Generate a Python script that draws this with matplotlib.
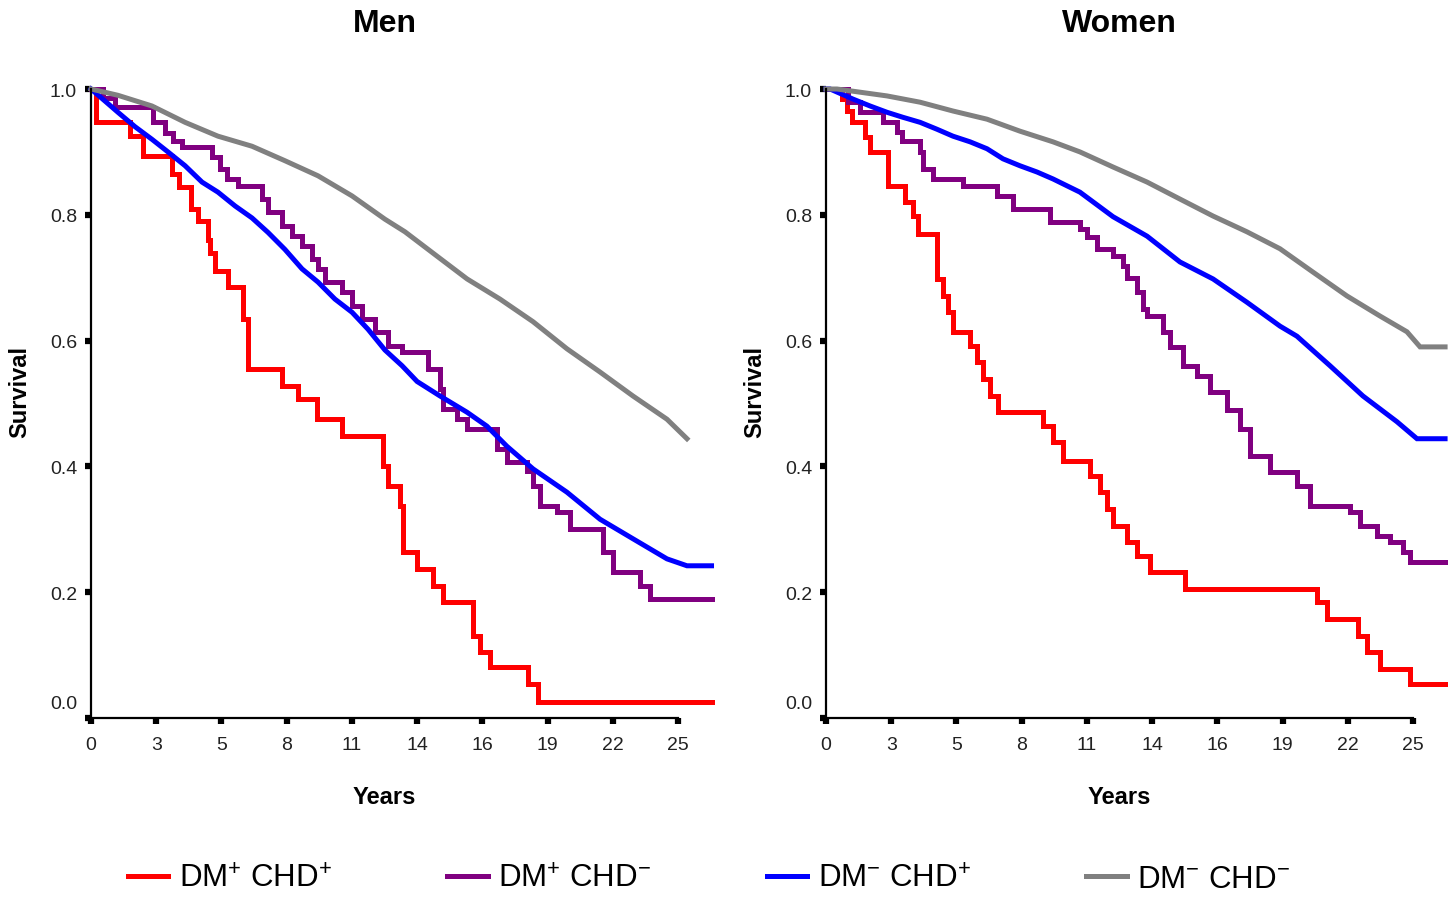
import matplotlib
matplotlib.use("Agg")
import matplotlib.pyplot as plt
import matplotlib.transforms as mtransforms

plt.rcParams['font.family'] = ['Liberation Sans', 'DejaVu Sans']
plt.rcParams['mathtext.fontset'] = 'custom'
plt.rcParams['mathtext.rm'] = 'Liberation Sans'
plt.rcParams['mathtext.it'] = 'Liberation Sans:italic'
plt.rcParams['mathtext.bf'] = 'Liberation Sans:bold'

# ---- data (years, survival) ----
# Men
men_red_t = [0, 0.2, 1.65, 2.2, 3.4, 3.7, 4.2, 4.5, 4.9, 5.0, 5.2, 5.75, 6.38, 6.6, 8.0, 8.7,
             9.5, 10.55, 12.26, 12.45, 12.97, 13.1, 13.7, 14.36, 14.78, 16.04, 16.33, 16.75,
             18.35, 18.77, 26.05]
men_red_s = [1.0, 0.947, 0.925, 0.893, 0.865, 0.844, 0.81, 0.79, 0.76, 0.74, 0.71, 0.685, 0.634,
             0.555, 0.528, 0.507, 0.475, 0.448, 0.40, 0.369, 0.337, 0.264, 0.237, 0.21, 0.184,
             0.13, 0.105, 0.081, 0.054, 0.025, 0.025]

men_purple_t = [0, 0.5, 1.0, 2.6, 3.1, 3.44, 3.82, 5.08, 5.42, 5.71, 6.17, 7.18, 7.43, 8.02, 8.44,
                8.86, 9.28, 9.53, 9.82, 10.54, 10.96, 11.38, 11.92, 12.47, 13.06, 14.15, 14.65,
                14.78, 15.37, 15.79, 17.04, 17.46, 18.3, 18.56, 18.85, 19.56, 20.11, 21.49, 21.91,
                23.05, 23.47, 26.05]
men_purple_s = [1.0, 0.985, 0.971, 0.947, 0.93, 0.917, 0.908, 0.892, 0.873, 0.857, 0.846, 0.825,
                0.804, 0.782, 0.766, 0.75, 0.73, 0.714, 0.693, 0.677, 0.655, 0.634, 0.614, 0.591,
                0.582, 0.555, 0.523, 0.491, 0.475, 0.459, 0.428, 0.407, 0.393, 0.369, 0.337, 0.328,
                0.30, 0.264, 0.232, 0.21, 0.189, 0.189]

men_blue_t = [0, 0.46, 1.13, 1.85, 2.56, 3.23, 3.95, 4.66, 5.33, 6.05, 6.76, 7.43, 8.14, 8.86,
              9.53, 10.24, 10.96, 11.63, 12.34, 13.06, 13.69, 14.65, 15.79, 16.62, 17.46, 18.56,
              19.98, 21.37, 22.75, 24.18, 25.02, 26.05]
men_blue_s = [1.0, 0.985, 0.963, 0.94, 0.92, 0.90, 0.878, 0.852, 0.836, 0.814, 0.795, 0.772,
              0.745, 0.714, 0.693, 0.666, 0.645, 0.618, 0.585, 0.56, 0.535, 0.512, 0.486, 0.464,
              0.432, 0.396, 0.359, 0.316, 0.285, 0.253, 0.242, 0.242]

men_gray_t = [0, 1.13, 2.56, 3.95, 5.33, 6.76, 8.14, 9.53, 10.96, 12.34, 13.18, 14.5, 15.79,
              17.17, 18.56, 19.98, 21.37, 22.75, 24.18, 25.02]
men_gray_s = [1.0, 0.99, 0.973, 0.947, 0.925, 0.909, 0.886, 0.862, 0.83, 0.793, 0.773, 0.735,
              0.698, 0.666, 0.63, 0.587, 0.55, 0.512, 0.475, 0.444]

# Women
wom_red_t = [0, 0.67, 0.88, 1.09, 1.64, 1.85, 2.6, 3.32, 3.65, 3.86, 4.66, 4.91, 5.12, 5.33, 6.05,
             6.34, 6.59, 6.88, 7.2, 9.11, 9.53, 9.95, 11.08, 11.5, 11.8, 12.05, 12.64, 13.06,
             13.6, 15.07, 20.61, 21.03, 22.33, 22.71, 23.26, 24.52, 25.99]
wom_red_s = [1.0, 0.984, 0.965, 0.947, 0.924, 0.9, 0.846, 0.82, 0.798, 0.77, 0.698, 0.671, 0.645,
             0.614, 0.591, 0.566, 0.539, 0.512, 0.486, 0.464, 0.439, 0.409, 0.385, 0.359, 0.332,
             0.305, 0.28, 0.258, 0.232, 0.205, 0.184, 0.157, 0.13, 0.105, 0.078, 0.054, 0.054]

wom_purple_t = [0, 0.92, 1.43, 2.39, 2.98, 3.19, 3.95, 4.07, 4.49, 5.75, 7.18, 7.85, 9.4, 10.66,
                10.96, 11.38, 12.05, 12.47, 12.64, 13.06, 13.31, 13.48, 14.15, 14.44, 14.99,
                15.58, 16.12, 16.83, 17.38, 17.8, 18.64, 19.77, 20.32, 22.0, 22.42, 23.13, 23.68,
                24.22, 24.52, 25.99]
wom_purple_s = [1.0, 0.979, 0.963, 0.947, 0.932, 0.917, 0.9, 0.873, 0.857, 0.846, 0.83, 0.81,
                0.789, 0.777, 0.765, 0.745, 0.735, 0.719, 0.70, 0.677, 0.65, 0.639, 0.614, 0.59,
                0.56, 0.544, 0.518, 0.49, 0.459, 0.417, 0.391, 0.369, 0.337, 0.328, 0.305, 0.289,
                0.28, 0.264, 0.248, 0.248]

wom_blue_t = [0, 0.17, 1.13, 1.85, 2.56, 3.23, 3.95, 4.66, 5.33, 6.05, 6.76, 7.43, 8.14, 8.86,
              9.53, 10.66, 12.05, 13.48, 14.86, 16.25, 17.67, 19.06, 19.77, 21.16, 22.54, 23.97,
              24.81, 25.99]
wom_blue_s = [1.0, 1.0, 0.984, 0.973, 0.963, 0.955, 0.947, 0.936, 0.925, 0.916, 0.905, 0.889,
              0.878, 0.868, 0.857, 0.836, 0.797, 0.766, 0.725, 0.698, 0.661, 0.623, 0.607, 0.56,
              0.512, 0.471, 0.444, 0.444]

wom_gray_t = [0, 0.46, 2.56, 3.95, 5.33, 6.76, 8.14, 9.53, 10.66, 12.05, 13.48, 14.86, 16.25,
              17.67, 19.06, 20.44, 21.87, 23.26, 24.39, 24.94, 25.99]
wom_gray_s = [1.0, 1.0, 0.989, 0.979, 0.965, 0.952, 0.933, 0.916, 0.90, 0.876, 0.852, 0.825,
              0.798, 0.773, 0.746, 0.709, 0.671, 0.639, 0.614, 0.59, 0.59]

labels = ['DM$^{+}$ CHD$^{+}$', 'DM$^{+}$ CHD$^{-}$', 'DM$^{-}$ CHD$^{+}$', 'DM$^{-}$ CHD$^{-}$']
colors = ['#ff0000', '#800080', '#0000ff', '#808080']

# SPSS-style ticks: every 1000 days, labelled in rounded years
tick_pos = [k * 1000 / 365.25 for k in range(10)]
tick_lab = ['0', '3', '5', '8', '11', '14', '16', '19', '22', '25']
y_ticks = [0.0, 0.2, 0.4, 0.6, 0.8, 1.0]

W, H = 1450, 903
fig = plt.figure(figsize=(W / 100, H / 100), dpi=100)

px_per_year = 23.82
xmax = 26.1
ymax = 1.02
y0_px, y1_px = 719, 90
ax_h = (y0_px - y1_px) * ymax / H
ax_w = xmax * px_per_year / W
ax_men = fig.add_axes([91 / W, 1 - y0_px / H, ax_w, ax_h])
ax_wom = fig.add_axes([826 / W, 1 - y0_px / H, ax_w, ax_h])


def draw_panel(ax, title, series):
    for (t, s, step), c, lab in zip(series, colors, labels):
        ax.plot(t, s, color=c, lw=3.6, label=lab,
                drawstyle='steps-post' if step else 'default',
                solid_joinstyle='miter', clip_on=False)

    ax.set_xlim(0, xmax)
    ax.set_ylim(0, ymax)
    for side in ['top', 'right']:
        ax.spines[side].set_visible(False)
    ax.spines['left'].set_bounds(0, 1)
    ax.spines['bottom'].set_bounds(0, tick_pos[-1])
    for side in ['left', 'bottom']:
        ax.spines[side].set_linewidth(1.6)

    ax.set_xticks(tick_pos)
    ax.set_xticklabels(tick_lab)
    ax.set_yticks(y_ticks)
    ax.set_yticklabels(['%.1f' % v for v in y_ticks])
    ax.tick_params(axis='both', direction='out', length=4, width=4.5,
                   labelsize=14, labelcolor='#222222')
    ax.tick_params(axis='x', pad=9)
    ax.tick_params(axis='y', pad=6)

    # the 0.0 label sits a little above the x axis in the original
    lab0 = ax.get_yticklabels()[0]
    lab0.set_transform(lab0.get_transform() +
                       mtransforms.ScaledTranslation(0, 12 / 72, fig.dpi_scale_trans))

    mid = tick_pos[-1] / 2
    trans = mtransforms.blended_transform_factory(ax.transData, fig.transFigure)
    ax.text(mid, 1 - 24 / H, title, transform=trans, ha='center', va='center',
            fontsize=23, fontweight='bold')
    ax.text(mid, 1 - 798 / H, 'Years', transform=trans, ha='center', va='center',
            fontsize=17, fontweight='bold')
    ax.set_ylabel('Survival', fontsize=17, fontweight='bold')
    ax.yaxis.set_label_coords(-0.096, 0.51)


draw_panel(ax_men, 'Men', [
    (men_red_t, men_red_s, True),
    (men_purple_t, men_purple_s, True),
    (men_blue_t, men_blue_s, False),
    (men_gray_t, men_gray_s, False),
])
draw_panel(ax_wom, 'Women', [
    (wom_red_t, wom_red_s, True),
    (wom_purple_t, wom_purple_s, True),
    (wom_blue_t, wom_blue_s, False),
    (wom_gray_t, wom_gray_s, False),
])

handles, labs = ax_men.get_legend_handles_labels()
fig.legend(handles, labs, loc='center', bbox_to_anchor=(0.489, 1 - 880 / H), ncol=4,
           frameon=False, fontsize=22.5, handlelength=1.3, handletextpad=0.33,
           columnspacing=3.7)

fig.savefig('out.png', dpi=100)
